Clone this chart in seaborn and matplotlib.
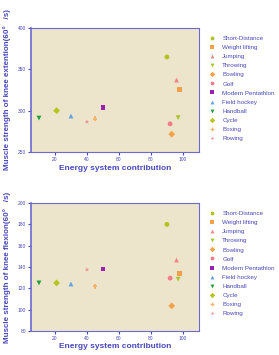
#scatter of knee strength vs energy system contribution, two panels
import pandas as pd
import matplotlib
matplotlib.use('Agg')
import matplotlib.pyplot as plt
import seaborn as sns

#sports and their values
sports = ['Short-Distance', 'Weight lifting', 'Jumping', 'Throwing', 'Bowling', 'Golf',
          'Modern Pentathlon', 'Field hockey', 'Handball', 'Cycle', 'Boxing', 'Rowing']
energy = [90, 98, 96, 97, 93, 92, 50, 30, 10, 21, 45, 40]
extension = [365, 326, 337, 291.5, 271.5, 284, 303.5, 293.5, 291, 300, 290, 286.5]
flexion = [180, 134, 146.5, 128.5, 103.5, 129.5, 138, 124, 125, 125, 122, 137.5]

colors = ['#b3c21c', '#f3a04c', '#f28585', '#a9c52a', '#f4a246', '#f27b8c',
          '#9b1fb0', '#5ea2e0', '#1fa03e', '#b8c41e', '#f7b468', '#f28c98']
markers = ['o', 's', '^', 'v', 'D', 'o', 's', '^', 'v', 'D', 'P', '*']
palette = dict(zip(sports, colors))
marker_map = dict(zip(sports, markers))

df = pd.DataFrame({'sport': sports, 'energy': energy,
                   'extension': extension, 'flexion': flexion})

sns.set_style('white')
plt.rcParams['font.family'] = ['Liberation Sans', 'DejaVu Sans']

blue = '#4848b8'
fig = plt.figure(figsize=(2.79, 3.55), dpi=100)
ax1 = fig.add_axes([0.111, 0.572, 0.602, 0.349])
ax2 = fig.add_axes([0.111, 0.068, 0.602, 0.360])

panels = [
    (ax1, 'extension', 'Muscle strength of knee extention(60°   /s)', (250, 400), [250, 300, 350, 400]),
    (ax2, 'flexion', 'Muscle strength of knee flexion(60°   /s)', (80, 200), [80, 100, 120, 140, 160, 180, 200]),
]
for ax, col, ylabel, ylim, yticks in panels:
    sns.scatterplot(data=df, x='energy', y=col, hue='sport', style='sport',
                    palette=palette, markers=marker_map, s=12, linewidth=0,
                    ax=ax, legend=True)
    ax.set_facecolor('#ece5cb')
    ax.set_xlim(5, 110)
    ax.set_ylim(*ylim)
    ax.set_xticks([20, 40, 60, 80, 100])
    ax.set_yticks(yticks)
    for sp in ax.spines.values():
        sp.set_color('#6a6ad0')
        sp.set_linewidth(0.8)
    ax.spines['left'].set_linewidth(1.2)
    ax.tick_params(axis='both', labelsize=3.5, colors=blue, length=2.5, width=0.8,
                   direction='out', pad=1, left=True, bottom=True)
    ax.set_xlabel('Energy system contribution', fontsize=6, fontweight='bold', color=blue, labelpad=2)
    ax.set_ylabel(ylabel, fontsize=5.8, fontweight='bold', color=blue)
    ax.yaxis.set_label_coords(-0.12, 0.5)
    handles, labels = ax.get_legend_handles_labels()
    ax.legend(handles, labels, loc='upper left', bbox_to_anchor=(1.05, 0.96),
              frameon=False, fontsize=4.5, labelcolor=blue, markerscale=0.8,
              handletextpad=1.2, labelspacing=0.6, borderaxespad=0, handlelength=0.8)

plt.savefig('out.png', dpi=100)
